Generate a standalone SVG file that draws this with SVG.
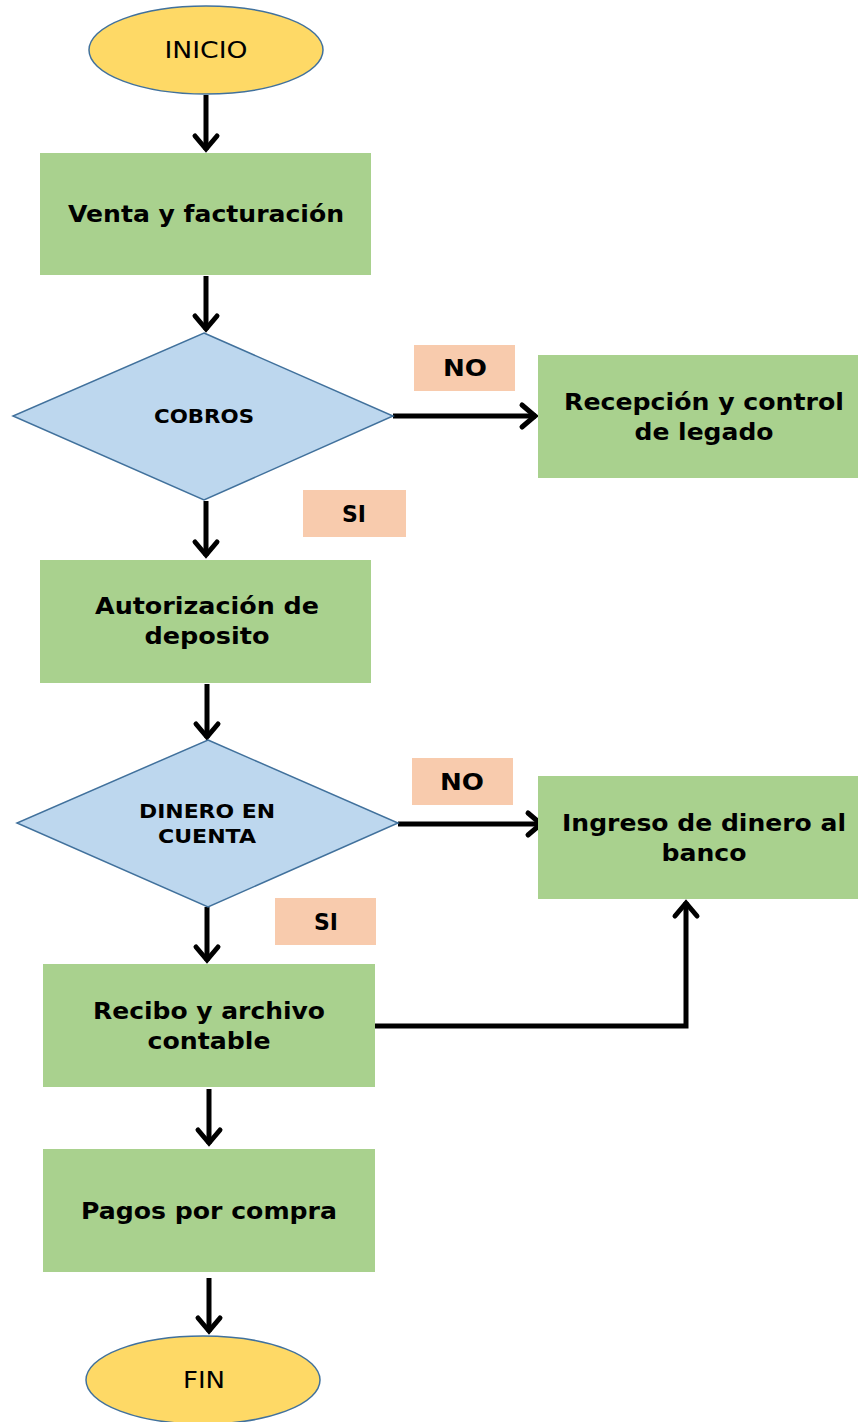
<svg xmlns="http://www.w3.org/2000/svg" width="858" height="1422" viewBox="0 0 858 1422">
<style>
.term{fill:#FED966;stroke:#41719C;stroke-width:1.5}
.proc{fill:#A9D18E}
.dec{fill:#BDD7EE;stroke:#41719C;stroke-width:1.5}
.lbl{fill:#F8CBAD}
.t{font-family:"DejaVu Sans",Verdana,sans-serif;font-weight:bold;font-size:23px;fill:#000;text-anchor:middle}
.tr{font-family:"DejaVu Sans",Verdana,sans-serif;font-size:23px;fill:#000;text-anchor:middle}
.td{font-family:"DejaVu Sans",Verdana,sans-serif;font-weight:bold;font-size:19px;fill:#000;text-anchor:middle}
.c{fill:none;stroke:#000;stroke-width:5}
</style>
<defs>
<marker id="a" viewBox="-22 -16 26 32" refX="0" refY="0" markerWidth="26" markerHeight="32" markerUnits="userSpaceOnUse" orient="auto">
<path d="M-14,-11 L-1,0 L-14,11" fill="none" stroke="#000" stroke-width="5" stroke-linecap="round" stroke-linejoin="miter"/>
</marker>
</defs>
<g id="connectors">
<path class="c" d="M206,95 V150" marker-end="url(#a)"/>
<path class="c" d="M206,276 V330" marker-end="url(#a)"/>
<path class="c" d="M393,416 H536" marker-end="url(#a)"/>
<path class="c" d="M206,501 V556" marker-end="url(#a)"/>
<path class="c" d="M207,684 V738" marker-end="url(#a)"/>
<path class="c" d="M398,824 H542" marker-end="url(#a)"/>
<path class="c" d="M207,907 V961" marker-end="url(#a)"/>
<path class="c" d="M375,1026 H686 V902" marker-end="url(#a)"/>
<path class="c" d="M209,1089 V1144" marker-end="url(#a)"/>
<path class="c" d="M209,1278 V1332" marker-end="url(#a)"/>
</g>
<g id="inicio">
<ellipse class="term" cx="206" cy="50" rx="117" ry="44"/>
<text class="tr" x="206" y="58" textLength="83" lengthAdjust="spacingAndGlyphs">INICIO</text>
</g>
<g id="venta">
<rect class="proc" x="40" y="153" width="331" height="122"/>
<text class="t" x="206" y="222" textLength="276" lengthAdjust="spacingAndGlyphs">Venta y facturación</text>
</g>
<g id="cobros">
<polygon class="dec" points="204,333 393,416 204,500 13,416"/>
<text class="td" x="204" y="423" textLength="100" lengthAdjust="spacingAndGlyphs">COBROS</text>
</g>
<g id="no1">
<rect class="lbl" x="414" y="345" width="101" height="46"/>
<text class="t" x="465" y="376" textLength="44" lengthAdjust="spacingAndGlyphs">NO</text>
</g>
<g id="recepcion">
<rect class="proc" x="538" y="355" width="320" height="123"/>
<text class="t" x="704" y="410" textLength="280" lengthAdjust="spacingAndGlyphs">Recepción y control</text>
<text class="t" x="704" y="440" textLength="139" lengthAdjust="spacingAndGlyphs">de legado</text>
</g>
<g id="si1">
<rect class="lbl" x="303" y="490" width="103" height="47"/>
<text class="t" x="354" y="522" textLength="24" lengthAdjust="spacingAndGlyphs">SI</text>
</g>
<g id="autorizacion">
<rect class="proc" x="40" y="560" width="331" height="123"/>
<text class="t" x="207" y="614" textLength="224" lengthAdjust="spacingAndGlyphs">Autorización de</text>
<text class="t" x="207" y="644" textLength="125" lengthAdjust="spacingAndGlyphs">deposito</text>
</g>
<g id="dinero">
<polygon class="dec" points="208,740 398,823 208,907 17,823"/>
<text class="td" x="207" y="818" textLength="136" lengthAdjust="spacingAndGlyphs">DINERO EN</text>
<text class="td" x="207" y="843" textLength="98" lengthAdjust="spacingAndGlyphs">CUENTA</text>
</g>
<g id="no2">
<rect class="lbl" x="412" y="758" width="101" height="47"/>
<text class="t" x="462" y="790" textLength="44" lengthAdjust="spacingAndGlyphs">NO</text>
</g>
<g id="ingreso">
<rect class="proc" x="538" y="776" width="320" height="123"/>
<text class="t" x="704" y="831" textLength="284" lengthAdjust="spacingAndGlyphs">Ingreso de dinero al</text>
<text class="t" x="704" y="861" textLength="85" lengthAdjust="spacingAndGlyphs">banco</text>
</g>
<g id="si2">
<rect class="lbl" x="275" y="898" width="101" height="47"/>
<text class="t" x="326" y="930" textLength="24" lengthAdjust="spacingAndGlyphs">SI</text>
</g>
<g id="recibo">
<rect class="proc" x="43" y="964" width="332" height="123"/>
<text class="t" x="209" y="1019" textLength="232" lengthAdjust="spacingAndGlyphs">Recibo y archivo</text>
<text class="t" x="209" y="1049" textLength="123" lengthAdjust="spacingAndGlyphs">contable</text>
</g>
<g id="pagos">
<rect class="proc" x="43" y="1149" width="332" height="123"/>
<text class="t" x="209" y="1219" textLength="256" lengthAdjust="spacingAndGlyphs">Pagos por compra</text>
</g>
<g id="fin">
<ellipse class="term" cx="203" cy="1380" rx="117" ry="44"/>
<text class="tr" x="204" y="1388" textLength="42" lengthAdjust="spacingAndGlyphs">FIN</text>
</g>
</svg>
